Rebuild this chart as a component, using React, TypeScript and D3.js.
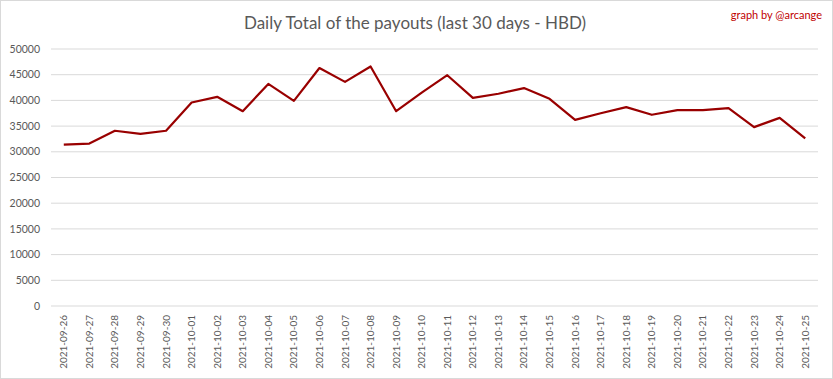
import React from "react";
import * as d3 from "d3";

const dates = [
  "2021-09-26","2021-09-27","2021-09-28","2021-09-29","2021-09-30",
  "2021-10-01","2021-10-02","2021-10-03","2021-10-04","2021-10-05",
  "2021-10-06","2021-10-07","2021-10-08","2021-10-09","2021-10-10",
  "2021-10-11","2021-10-12","2021-10-13","2021-10-14","2021-10-15",
  "2021-10-16","2021-10-17","2021-10-18","2021-10-19","2021-10-20",
  "2021-10-21","2021-10-22","2021-10-23","2021-10-24","2021-10-25",
];
const payouts = [
  31400, 31600, 34100, 33500, 34100,
  39600, 40700, 37900, 43200, 39900,
  46300, 43600, 46600, 37900, 41500,
  44900, 40500, 41300, 42400, 40300,
  36200, 37500, 38700, 37200, 38100,
  38100, 38500, 34800, 36600, 32600,
];
const yTicks = [0, 5000, 10000, 15000, 20000, 25000, 30000, 35000, 40000, 45000, 50000];
const title = "Daily Total of the payouts (last 30 days - HBD)";
const credit = "graph by @arcange";

export default function App() {
  const W = 833, H = 379;
  const left = 51, right = 818, top = 49, bottom = 306;
  const x = d3.scaleBand<string>().domain(dates).range([left, right]);
  const y = d3.scaleLinear().domain([0, 50000]).range([bottom, top]);
  const line = d3.line<number>()
    .x((_, i) => (x(dates[i]) as number) + x.bandwidth() / 2)
    .y((d) => y(d));
  const font = "Lato, 'Open Sans', sans-serif";
  return (
    <svg width={W} height={H} style={{ position: "absolute", left: 0, top: 0, background: "#fff" }}>
      <rect x={0.5} y={0.5} width={W - 1} height={H - 1} fill="#fff" stroke="#d9d9d9" />
      <text x={415} y={29} textAnchor="middle" fontFamily={font} fontSize={17} fill="#595959">{title}</text>
      <text x={822} y={19} textAnchor="end" fontFamily={font} fontSize={11} fill="#c00000">{credit}</text>
      {yTicks.map((t) => (
        <g key={t}>
          <line x1={left} x2={right} y1={y(t)} y2={y(t)} stroke="#d9d9d9" strokeWidth={1} />
          <text x={40} y={y(t)} dy="0.35em" textAnchor="end" fontFamily={font} fontSize={10.5} fill="#595959">{t}</text>
        </g>
      ))}
      {dates.map((d) => {
        const cx = (x(d) as number) + x.bandwidth() / 2;
        return (
          <text key={d} transform={`translate(${cx + 3.5},315) rotate(-90)`} textAnchor="end"
            fontFamily={font} fontSize={10} fill="#595959">{d}</text>
        );
      })}
      <path d={line(payouts) || ""} fill="none" stroke="#990000" strokeWidth={2.2} strokeLinejoin="round" />
    </svg>
  );
}
